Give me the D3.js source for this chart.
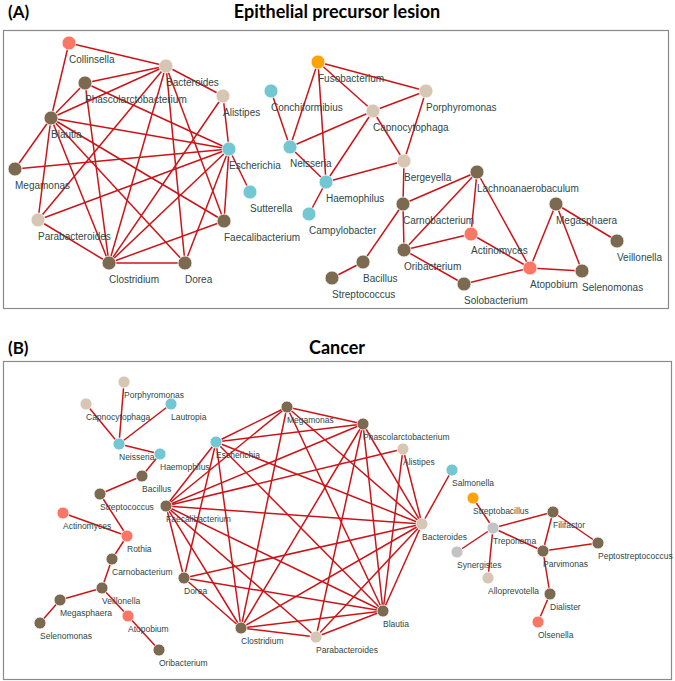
<!DOCTYPE html>
<html>
<head>
<meta charset="utf-8">
<script src="https://cdn.jsdelivr.net/npm/d3@7"></script>
<style>
  body { margin: 0; background: #fff; }
  svg { display: block; }
</style>
</head>
<body>
<script>
// colours by taxon group
let groupColor = {
    brown: '#7b6a50',
    beige: '#d6c6b3',
    cyan: '#72c7d3',
    salmon: '#fa7766',
    orange: '#fca30a',
    gray: '#c3c3c5'
};

// panel A: node name, layout x, layout y (relative to the panel box), group
let nodesA = [
    ['Collinsella', 66, 13, 'salmon'],
    ['Bacteroides', 163, 36, 'beige'],
    ['Phascolarctobacterium', 82, 53, 'brown'],
    ['Alistipes', 220, 66, 'beige'],
    ['Blautia', 48, 88, 'brown'],
    ['Escherichia', 226, 119, 'cyan'],
    ['Megamonas', 12, 139, 'brown'],
    ['Sutterella', 247, 162, 'cyan'],
    ['Parabacteroides', 35, 190, 'beige'],
    ['Faecalibacterium', 221, 191, 'brown'],
    ['Clostridium', 106, 233, 'brown'],
    ['Dorea', 182, 233, 'brown'],
    ['Fusobacterium', 315, 32, 'orange'],
    ['Conchiformibius', 268, 61, 'cyan'],
    ['Porphyromonas', 423, 61, 'beige'],
    ['Capnocytophaga', 370, 81, 'beige'],
    ['Neisseria', 287, 117, 'cyan'],
    ['Bergeyella', 401, 131, 'beige'],
    ['Haemophilus', 323, 152, 'cyan'],
    ['Carnobacterium', 400, 174, 'brown'],
    ['Campylobacter', 306, 184, 'cyan'],
    ['Lachnoanaerobaculum', 474, 142, 'brown'],
    ['Megasphaera', 553, 174, 'brown'],
    ['Actinomyces', 468, 204, 'salmon'],
    ['Veillonella', 614, 211, 'brown'],
    ['Oribacterium', 401, 220, 'brown'],
    ['Atopobium', 527, 238, 'salmon'],
    ['Selenomonas', 579, 241, 'brown'],
    ['Solobacterium', 461, 254, 'brown'],
    ['Bacillus', 360, 232, 'brown'],
    ['Streptococcus', 329, 248, 'brown']
];

let edgesA = [
    ['Collinsella', 'Bacteroides'], ['Collinsella', 'Blautia'],
    ['Bacteroides', 'Phascolarctobacterium'], ['Bacteroides', 'Blautia'],
    ['Bacteroides', 'Alistipes'], ['Bacteroides', 'Parabacteroides'],
    ['Bacteroides', 'Clostridium'], ['Bacteroides', 'Dorea'],
    ['Bacteroides', 'Faecalibacterium'],
    ['Phascolarctobacterium', 'Blautia'], ['Phascolarctobacterium', 'Escherichia'],
    ['Phascolarctobacterium', 'Clostridium'],
    ['Blautia', 'Escherichia'], ['Blautia', 'Megamonas'], ['Blautia', 'Parabacteroides'],
    ['Blautia', 'Clostridium'], ['Blautia', 'Dorea'], ['Blautia', 'Faecalibacterium'],
    ['Alistipes', 'Escherichia'], ['Alistipes', 'Clostridium'],
    ['Escherichia', 'Megamonas'], ['Escherichia', 'Sutterella'],
    ['Escherichia', 'Parabacteroides'], ['Escherichia', 'Clostridium'],
    ['Escherichia', 'Dorea'], ['Escherichia', 'Faecalibacterium'],
    ['Parabacteroides', 'Clostridium'], ['Clostridium', 'Dorea'],
    ['Clostridium', 'Faecalibacterium'],
    ['Fusobacterium', 'Porphyromonas'], ['Fusobacterium', 'Capnocytophaga'],
    ['Fusobacterium', 'Neisseria'], ['Fusobacterium', 'Haemophilus'],
    ['Conchiformibius', 'Neisseria'], ['Capnocytophaga', 'Neisseria'],
    ['Capnocytophaga', 'Porphyromonas'],
    ['Capnocytophaga', 'Haemophilus'], ['Capnocytophaga', 'Bergeyella'],
    ['Porphyromonas', 'Bergeyella'], ['Neisseria', 'Haemophilus'],
    ['Haemophilus', 'Bergeyella'], ['Haemophilus', 'Campylobacter'],
    ['Bergeyella', 'Carnobacterium'],
    ['Carnobacterium', 'Lachnoanaerobaculum'], ['Carnobacterium', 'Oribacterium'],
    ['Carnobacterium', 'Bacillus'], ['Bacillus', 'Streptococcus'],
    ['Lachnoanaerobaculum', 'Oribacterium'], ['Lachnoanaerobaculum', 'Actinomyces'],
    ['Lachnoanaerobaculum', 'Atopobium'],
    ['Oribacterium', 'Actinomyces'], ['Oribacterium', 'Solobacterium'],
    ['Actinomyces', 'Atopobium'], ['Solobacterium', 'Atopobium'],
    ['Atopobium', 'Megasphaera'], ['Atopobium', 'Selenomonas'],
    ['Megasphaera', 'Selenomonas'], ['Megasphaera', 'Veillonella']
];

// panel B
let nodesB = [
    ['Porphyromonas', 121, 21, 'beige'],
    ['Capnocytophaga', 83, 43, 'beige'],
    ['Lautropia', 168, 43, 'cyan'],
    ['Neisseria', 116, 83, 'cyan'],
    ['Haemophilus', 157, 93, 'cyan'],
    ['Escherichia', 213, 81, 'cyan'],
    ['Bacillus', 139, 115, 'brown'],
    ['Streptococcus', 97, 133, 'brown'],
    ['Faecalibacterium', 163, 145, 'brown'],
    ['Actinomyces', 60, 152, 'salmon'],
    ['Rothia', 124, 175, 'salmon'],
    ['Carnobacterium', 109, 198, 'brown'],
    ['Dorea', 181, 217, 'brown'],
    ['Veillonella', 99, 227, 'brown'],
    ['Megasphaera', 57, 239, 'brown'],
    ['Atopobium', 125, 255, 'salmon'],
    ['Selenomonas', 37, 262, 'brown'],
    ['Oribacterium', 156, 289, 'brown'],
    ['Megamonas', 284, 46, 'brown'],
    ['Phascolarctobacterium', 360, 63, 'brown'],
    ['Alistipes', 400, 88, 'beige'],
    ['Salmonella', 449, 109, 'cyan'],
    ['Bacteroides', 419, 163, 'beige'],
    ['Blautia', 380, 250, 'brown'],
    ['Clostridium', 238, 267, 'brown'],
    ['Parabacteroides', 313, 276, 'beige'],
    ['Streptobacillus', 470, 137, 'orange'],
    ['Filifactor', 550, 151, 'brown'],
    ['Treponema', 490, 167, 'gray'],
    ['Peptostreptococcus', 595, 182, 'brown'],
    ['Synergistes', 454, 191, 'gray'],
    ['Parvimonas', 540, 190, 'brown'],
    ['Alloprevotella', 485, 217, 'beige'],
    ['Dialister', 547, 233, 'brown'],
    ['Olsenella', 535, 261, 'salmon']
];

let edgesB = [
    ['Porphyromonas', 'Neisseria'], ['Capnocytophaga', 'Neisseria'],
    ['Lautropia', 'Neisseria'], ['Neisseria', 'Haemophilus'],
    ['Haemophilus', 'Bacillus'], ['Bacillus', 'Streptococcus'],
    ['Streptococcus', 'Rothia'], ['Actinomyces', 'Rothia'],
    ['Rothia', 'Carnobacterium'], ['Carnobacterium', 'Veillonella'],
    ['Veillonella', 'Megasphaera'], ['Megasphaera', 'Selenomonas'],
    ['Veillonella', 'Atopobium'], ['Atopobium', 'Oribacterium'],
    ['Megamonas', 'Phascolarctobacterium'], ['Megamonas', 'Escherichia'],
    ['Megamonas', 'Faecalibacterium'], ['Megamonas', 'Clostridium'],
    ['Megamonas', 'Blautia'], ['Megamonas', 'Bacteroides'],
    ['Escherichia', 'Phascolarctobacterium'], ['Escherichia', 'Faecalibacterium'],
    ['Escherichia', 'Dorea'], ['Escherichia', 'Clostridium'],
    ['Escherichia', 'Bacteroides'], ['Escherichia', 'Blautia'],
    ['Faecalibacterium', 'Phascolarctobacterium'], ['Faecalibacterium', 'Alistipes'],
    ['Faecalibacterium', 'Bacteroides'], ['Faecalibacterium', 'Blautia'],
    ['Faecalibacterium', 'Parabacteroides'], ['Faecalibacterium', 'Clostridium'],
    ['Faecalibacterium', 'Dorea'],
    ['Dorea', 'Clostridium'], ['Dorea', 'Bacteroides'], ['Dorea', 'Blautia'],
    ['Clostridium', 'Phascolarctobacterium'], ['Clostridium', 'Bacteroides'],
    ['Clostridium', 'Blautia'], ['Clostridium', 'Parabacteroides'],
    ['Parabacteroides', 'Blautia'], ['Parabacteroides', 'Phascolarctobacterium'],
    ['Parabacteroides', 'Bacteroides'],
    ['Blautia', 'Phascolarctobacterium'], ['Blautia', 'Alistipes'],
    ['Blautia', 'Bacteroides'],
    ['Bacteroides', 'Phascolarctobacterium'], ['Bacteroides', 'Alistipes'],
    ['Bacteroides', 'Salmonella'],
    ['Streptobacillus', 'Treponema'], ['Treponema', 'Synergistes'],
    ['Treponema', 'Alloprevotella'], ['Treponema', 'Filifactor'],
    ['Treponema', 'Parvimonas'], ['Filifactor', 'Parvimonas'],
    ['Filifactor', 'Peptostreptococcus'], ['Parvimonas', 'Peptostreptococcus'],
    ['Parvimonas', 'Dialister'], ['Dialister', 'Olsenella']
];

let panels = [
    {tag: '(A)', title: 'Epithelial precursor lesion', nodes: nodesA, edges: edgesA,
     box: {x: 3, y: 30, w: 665, h: 278}, titleY: 18, r: 7, font: 10, dy: 20},
    {tag: '(B)', title: 'Cancer', nodes: nodesB, edges: edgesB,
     box: {x: 3, y: 361, w: 668, h: 318}, titleY: 354, r: 6, font: 8.5, dy: 16}
];

var svg = d3.select('body')
    .append('svg')
    .attr('width', 675)
    .attr('height', 681);

panels.forEach((p)=>{
    let xScale = d3.scaleLinear().domain([0, p.box.w]).range([p.box.x, p.box.x + p.box.w]);
    let yScale = d3.scaleLinear().domain([0, p.box.h]).range([p.box.y, p.box.y + p.box.h]);

    svg.append('text')
        .attr('x', 8)
        .attr('y', p.titleY)
        .style('font-family', 'Lato, "Open Sans", sans-serif')
        .style('font-weight', 'bold')
        .style('font-size', '17px')
        .text(p.tag);
    svg.append('text')
        .attr('x', 337)
        .attr('y', p.titleY)
        .attr('text-anchor', 'middle')
        .style('font-family', 'Lato, "Open Sans", sans-serif')
        .style('font-weight', 'bold')
        .style('font-size', '18px')
        .text(p.title);

    svg.append('rect')
        .attr('x', p.box.x + 0.5)
        .attr('y', p.box.y + 0.5)
        .attr('width', p.box.w)
        .attr('height', p.box.h)
        .style('fill', 'none')
        .style('stroke', '#8a8a8a')
        .style('stroke-width', 1.2);

    let lookup = {};
    p.nodes.forEach((n)=>{ lookup[n[0]] = n; });

    let g = svg.append('g');
    g.selectAll('.edge')
        .data(p.edges)
        .enter().append('line')
        .attr('class', 'edge')
        .attr('x1', (d)=>xScale(lookup[d[0]][1]))
        .attr('y1', (d)=>yScale(lookup[d[0]][2]))
        .attr('x2', (d)=>xScale(lookup[d[1]][1]))
        .attr('y2', (d)=>yScale(lookup[d[1]][2]))
        .style('stroke', '#cc1418')
        .style('stroke-width', 1.5);

    g.selectAll('.node')
        .data(p.nodes)
        .enter().append('circle')
        .attr('class', 'node')
        .attr('cx', (d)=>xScale(d[1]))
        .attr('cy', (d)=>yScale(d[2]))
        .attr('r', p.r)
        .style('fill', (d)=>groupColor[d[3]])
        .style('stroke', '#fff')
        .style('stroke-width', 0.8);

    g.selectAll('.label')
        .data(p.nodes)
        .enter().append('text')
        .attr('class', 'label')
        .attr('x', (d)=>xScale(d[1]))
        .attr('y', (d)=>yScale(d[2]) + p.dy)
        .style('font-family', '"Liberation Sans", Arial, sans-serif')
        .style('font-size', p.font + 'px')
        .style('fill', '#2e4748')
        .text((d)=>d[0]);
});
</script>
</body>
</html>
